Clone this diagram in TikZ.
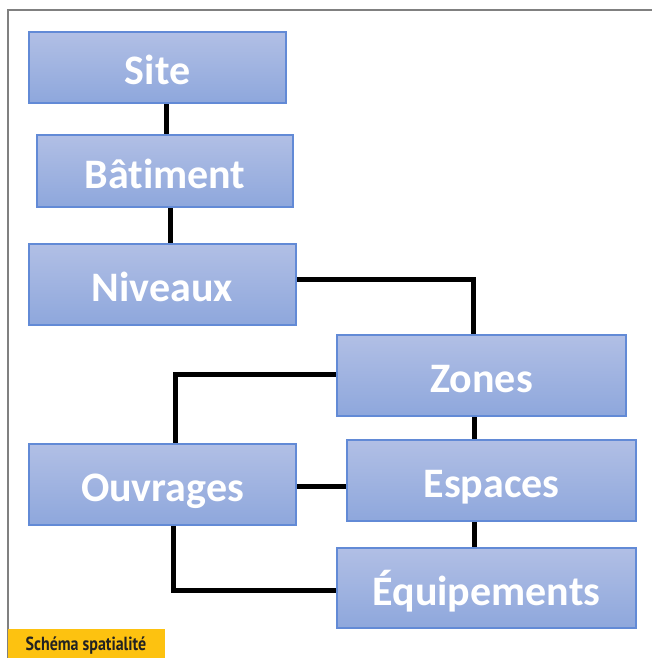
\documentclass[tikz,border=0pt]{standalone}
\usepackage{fontspec}
\setmainfont{Carlito}[Ligatures={NoCommon}]
\newfontfamily\capfont{PT Sans}
\usetikzlibrary{calc}
\definecolor{boxtop}{RGB}{177,191,229}
\definecolor{boxbot}{RGB}{142,167,220}
\definecolor{boxline}{RGB}{98,138,214}
\definecolor{framegray}{RGB}{128,128,128}
\definecolor{capyellow}{RGB}{253,194,16}
\definecolor{captext}{RGB}{34,34,34}
\tikzset{
  block/.style={rectangle, draw=boxline, line width=1.4pt, top color=boxtop, bottom color=boxbot,
    inner sep=0pt, text=white, font=\fontsize{42}{44}\selectfont\bfseries},
  btext/.style={text=white, font=\fontsize{42}{44}\selectfont\bfseries, inner sep=0pt},
  link/.style={line width=5pt, draw=black, line join=miter, line cap=rect},
  framel/.style={line width=1.5pt, draw=framegray},
}
\begin{document}
\begin{tikzpicture}[x=1pt, y=-1pt]
\useasboundingbox (0,0) rectangle (652,658);
\fill[white] (0,0) rectangle (652,658);
% frame
\coordinate (ftr) at (652,10);
\coordinate (ftl) at (8,10);
\coordinate (fbl) at (8,658);
\draw[framel] (ftr) -- (ftl) -- (fbl);
% helper coordinates
\coordinate (x1) at (166,0);
\coordinate (x2) at (170,0);
\coordinate (x3) at (473,0);
\coordinate (y3) at (0,279);
\coordinate (x4) at (175,0);
\coordinate (y4) at (0,374);
\coordinate (x5) at (474,0);
\coordinate (y6) at (0,486);
\coordinate (x7) at (173,0);
\coordinate (y7) at (0,590);
% links (drawn first, under boxes)
\draw[link] (x1 |- 0,103) -- (x1 |- 0,135);
\draw[link] (x2 |- 0,207) -- (x2 |- 0,244);
\draw[link] (296,0 |- y3) -- (x3 |- y3) -- (x3 |- 0,335);
\draw[link] (337,0 |- y4) -- (x4 |- y4) -- (x4 |- 0,444);
\draw[link] (x5 |- 0,416) -- (x5 |- 0,440);
\draw[link] (296,0 |- y6) -- (347,0 |- y6);
\draw[link] (x5 |- 0,521) -- (x5 |- 0,548);
\draw[link] (x7 |- 0,525) -- (x7 |- y7) -- (337,0 |- y7);
% boxes
\node[block, minimum width=257pt, minimum height=71pt] (site) at (157.5,67.5) {};
\node[block, minimum width=256pt, minimum height=72pt] (bat) at (165,171) {};
\node[block, minimum width=267pt, minimum height=81pt] (niv) at (162.5,284.5) {};
\node[block, minimum width=289pt, minimum height=81pt] (zon) at (481.5,375.5) {};
\node[block, minimum width=289pt, minimum height=81pt] (esp) at (491.5,480.5) {};
\node[block, minimum width=267pt, minimum height=81pt] (ouv) at (162.5,484.5) {};
\node[block, minimum width=299pt, minimum height=80pt] (equ) at (486.5,588) {};
% labels
\node[btext, anchor=base] (tsite) at ([yshift=-17pt]site.center) {Site};
\node[btext, anchor=base] (tbat) at ([yshift=-17pt]bat.center) {Bâtiment};
\node[btext, anchor=base] (tniv) at ([yshift=-17pt]niv.center) {Niveaux};
\node[btext, anchor=base] (tzon) at ([yshift=-17pt]zon.center) {Zones};
\node[btext, anchor=base] (tesp) at ([yshift=-17pt]esp.center) {Espaces};
\node[btext, anchor=base] (touv) at ([yshift=-17pt]ouv.center) {Ouvrages};
\node[btext, anchor=base] (tequ) at ([yshift=-17pt]equ.center) {Équipements};
% caption
\node[fill=capyellow, minimum width=157pt, minimum height=29pt, inner sep=0pt, anchor=north west] (cap) at (8,629) {};
\node[text=captext, font=\capfont\bfseries\fontsize{19}{20}\selectfont] (captxt) at (86,646) {\scalebox{0.84}[1]{Schéma spatialité}};
\end{tikzpicture}
\end{document}
